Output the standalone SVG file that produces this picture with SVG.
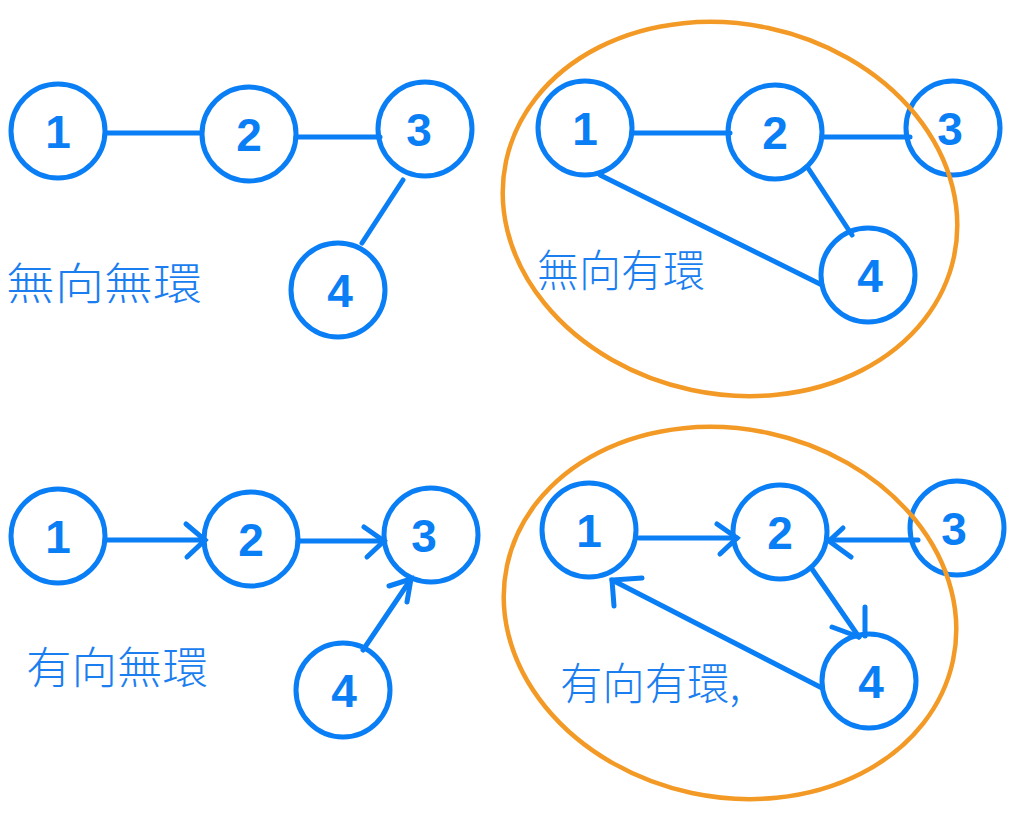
<svg xmlns="http://www.w3.org/2000/svg" width="1024" height="826" viewBox="0 0 1024 826">
<defs>
<style>
.n{fill:none;stroke:#0a7ef5;stroke-width:5}
.e{stroke:#0a7ef5;stroke-width:5;stroke-linecap:round;fill:none}
.d{font-family:"Liberation Sans","DejaVu Sans",sans-serif;font-size:46px;font-weight:bold;fill:#0a7ef5;text-anchor:middle}
.l{font-family:"Noto Sans CJK TC","Noto Sans CJK SC",sans-serif;font-size:44px;font-weight:300;fill:#1a7ef0}
.o{fill:none;stroke:#f39a26;stroke-width:4.5}
</style>
</defs>
<rect width="1024" height="826" fill="#fff"/>
<g id="connectors">
<line class="e" x1="106" y1="133" x2="201" y2="133"/>
<line class="e" x1="296" y1="137" x2="380" y2="137"/>
<line class="e" x1="403" y1="180" x2="362" y2="243"/>
<line class="e" x1="632" y1="133" x2="730" y2="133"/>
<line class="e" x1="822" y1="137" x2="910" y2="137"/>
<line class="e" x1="808" y1="168" x2="852" y2="235"/>
<line class="e" x1="600" y1="175" x2="822" y2="285"/>
<line class="e" x1="106" y1="540" x2="205" y2="540"/>
<path class="e" d="M186 524 L205 540 L187 557"/>
<line class="e" x1="298" y1="541" x2="384" y2="541"/>
<path class="e" d="M364 527 L384 541 L367 557"/>
<line class="e" x1="363" y1="650" x2="411" y2="579"/>
<path class="e" d="M389 586 L411 579 L407 602"/>
<line class="e" x1="639" y1="538" x2="737" y2="538"/>
<path class="e" d="M717 524 L737 538 L720 554"/>
<line class="e" x1="918" y1="540" x2="829" y2="540"/>
<path class="e" d="M843 528 L829 541 L851 557"/>
<line class="e" x1="812" y1="569" x2="859" y2="637"/>
<line class="e" x1="865" y1="607" x2="865" y2="636"/>
<path class="e" d="M832 627 L859 637"/>
<line class="e" x1="822" y1="688" x2="612" y2="580"/>
<path class="e" d="M642 578 L612 580 L614 606"/>
</g>
<g id="g1n1"><circle class="n" cx="58" cy="131" r="47"/><text class="d" x="58" y="148">1</text></g>
<g id="g1n2"><circle class="n" cx="249" cy="134" r="47"/><text class="d" x="249" y="151">2</text></g>
<g id="g1n3"><circle class="n" cx="425" cy="129" r="47"/><text class="d" x="419" y="146">3</text></g>
<g id="g1n4"><circle class="n" cx="338" cy="290" r="47"/><text class="d" x="340" y="307">4</text></g>
<g id="g2n1"><circle class="n" cx="585" cy="128" r="47"/><text class="d" x="585" y="145">1</text></g>
<g id="g2n2"><circle class="n" cx="775" cy="132" r="47"/><text class="d" x="775" y="149">2</text></g>
<g id="g2n3"><circle class="n" cx="953" cy="128" r="47"/><text class="d" x="950" y="145">3</text></g>
<g id="g2n4"><circle class="n" cx="868" cy="275" r="47"/><text class="d" x="870" y="292">4</text></g>
<g id="g3n1"><circle class="n" cx="58" cy="536" r="47"/><text class="d" x="58" y="553">1</text></g>
<g id="g3n2"><circle class="n" cx="251" cy="539" r="47"/><text class="d" x="251" y="556">2</text></g>
<g id="g3n3"><circle class="n" cx="431" cy="535" r="47"/><text class="d" x="424" y="552">3</text></g>
<g id="g3n4"><circle class="n" cx="343" cy="690" r="47"/><text class="d" x="344" y="707">4</text></g>
<g id="g4n1"><circle class="n" cx="589" cy="530" r="47"/><text class="d" x="589" y="547">1</text></g>
<g id="g4n2"><circle class="n" cx="780" cy="532" r="47"/><text class="d" x="780" y="549">2</text></g>
<g id="g4n3"><circle class="n" cx="957" cy="528" r="47"/><text class="d" x="954" y="545">3</text></g>
<g id="g4n4"><circle class="n" cx="869" cy="681" r="47"/><text class="d" x="871" y="698">4</text></g>
<g id="cycles">
<ellipse class="o" cx="730" cy="209" rx="229" ry="185" transform="rotate(12 730 209)"/>
<ellipse class="o" cx="730" cy="613" rx="228" ry="184" transform="rotate(12 730 613)"/>
</g>
<g id="labels">
<text class="l" x="6" y="300" textLength="196" lengthAdjust="spacingAndGlyphs">無向無環</text>
<text class="l" x="537" y="287" textLength="168" lengthAdjust="spacingAndGlyphs">無向有環</text>
<text class="l" x="26" y="684" textLength="182" lengthAdjust="spacingAndGlyphs">有向無環</text>
<text class="l" x="560" y="700" textLength="180" lengthAdjust="spacingAndGlyphs">有向有環,</text>
</g>
</svg>
